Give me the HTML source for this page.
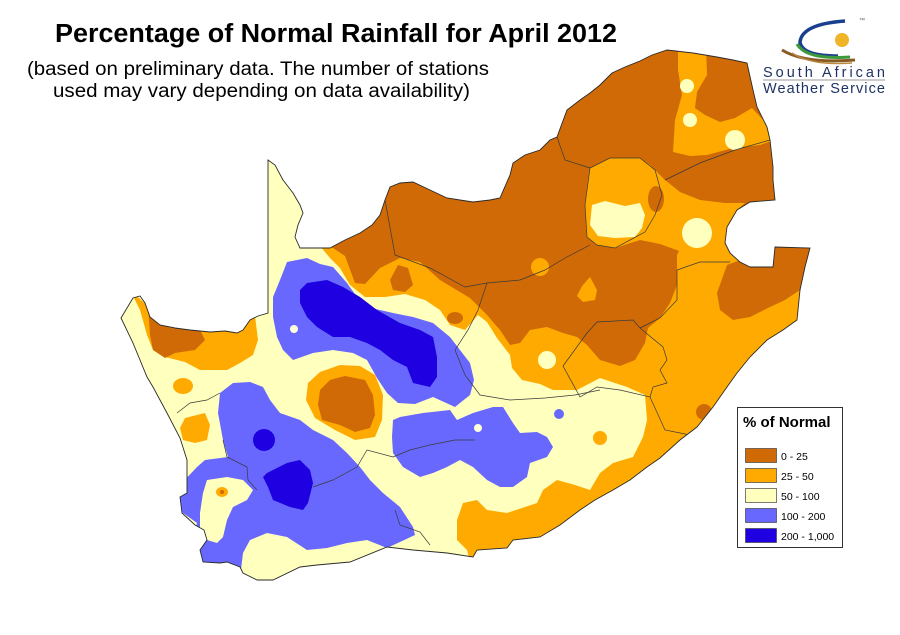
<!DOCTYPE html>
<html>
<head>
<meta charset="utf-8">
<style>
  html,body{margin:0;padding:0;background:#fff;}
  svg{display:block;}
  text{font-family:"Liberation Sans", Arial, sans-serif;}
</style>
</head>
<body>
<svg width="900" height="635" viewBox="0 0 900 635" xmlns="http://www.w3.org/2000/svg">
  <defs>
    <clipPath id="sa">
      <path id="saPath" d="M121,318 L133,298 L140,296 L145,303 L150,317 L160,325 L175,328 L190,330 L210,332 L225,331 L237,333 L243,330 L250,320 L258,316 L268,313 L268,160 L275,165 L283,180 L293,193 L300,205 L303,213 L298,225 L295,237 L300,248 L315,248 L330,248 L345,240 L360,233 L372,225 L380,215 L385,200 L390,187 L400,183 L413,182 L430,190 L447,198 L460,200 L473,202 L490,200 L500,198 L510,175 L513,163 L525,155 L540,150 L550,140 L557,137 L567,110 L580,100 L590,93 L600,85 L612,73 L625,67 L640,61 L652,55 L667,50 L693,53 L717,57 L733,60 L747,63 L753,90 L757,107 L767,127 L770,140 L773,167 L773,180 L775,200 L750,202 L737,210 L727,227 L725,243 L730,253 L740,262 L750,267 L773,267 L775,247 L810,248 L805,267 L800,290 L797,320 L783,330 L767,340 L750,357 L737,373 L727,387 L713,407 L697,427 L680,440 L660,458 L647,467 L630,480 L613,490 L595,500 L580,510 L560,525 L540,537 L513,540 L507,548 L477,550 L473,557 L447,553 L413,550 L387,547 L350,562 L317,565 L300,567 L273,580 L257,580 L243,573 L240,567 L227,562 L220,563 L203,562 L200,550 L207,540 L204,530 L195,525 L182,513 L180,497 L187,493 L187,460 L180,438 L167,413 L153,387 L147,377 L133,343 Z"/>
    </clipPath>
  </defs>

  <rect width="900" height="635" fill="#ffffff"/>

  <!-- Title -->
  <text x="55" y="42" font-size="25.5" font-weight="bold" fill="#000" textLength="562" lengthAdjust="spacingAndGlyphs">Percentage of Normal Rainfall for April 2012</text>
  <text x="27" y="75" font-size="19" fill="#000" textLength="462" lengthAdjust="spacingAndGlyphs">(based on preliminary data. The number of stations</text>
  <text x="53" y="97" font-size="19" fill="#000" textLength="417" lengthAdjust="spacingAndGlyphs">used may vary depending on data availability)</text>

  <!-- Map -->
  <g clip-path="url(#sa)">
    <rect x="0" y="0" width="900" height="635" fill="#FFFFBE"/>

    <!-- orange east/north base -->
    <path fill="#FFAA00" d="M310,0 L310,240 L320,246 L330,258 L340,268 L350,285 L365,297 L385,297 L405,294 L425,300 L440,310 L450,325 L465,330 L478,315 L487,322 L497,338 L510,355 L512,368 L522,380 L540,384 L553,390 L577,390 L600,378 L627,387 L645,395 L647,420 L643,437 L633,457 L613,463 L600,473 L590,490 L575,485 L557,480 L543,490 L537,503 L507,513 L487,510 L477,500 L463,503 L457,520 L457,540 L467,550 L480,600 L900,600 L900,0 Z"/>

    <!-- dark orange north + Free State -->
    <path fill="#D06A06" d="M330,30 L330,100 L318,238 L333,248 L345,256 L355,283 L365,284 L380,268 L400,258 L420,262 L440,280 L470,298 L487,315 L500,330 L510,345 L520,343 L530,330 L547,327 L563,333 L577,337 L587,345 L600,360 L620,366 L635,360 L645,343 L648,328 L660,318 L670,303 L677,285 L677,255 L682,245 L830,245 L830,30 Z"/>

    <!-- orange NE strip -->
    <path fill="#FFAA00" d="M678,45 L706,45 L707,75 L697,92 L695,108 L705,115 L720,122 L735,118 L752,108 L765,122 L780,138 L760,145 L733,148 L707,155 L690,156 L673,152 L675,120 L682,95 L678,70 Z"/>
    <!-- orange Gauteng / Mpumalanga -->
    <path fill="#FFAA00" d="M590,168 L610,158 L640,158 L650,165 L665,180 L680,192 L700,200 L725,203 L745,203 L737,210 L727,227 L725,243 L730,253 L740,262 L727,270 L700,262 L682,252 L660,244 L640,240 L615,248 L597,245 L587,237 L585,205 Z"/>

    <!-- dark orange patches -->
    <ellipse cx="656" cy="199" rx="8" ry="13" fill="#D06A06"/>
    <path fill="#D06A06" d="M727,265 L775,247 L812,247 L800,290 L785,300 L770,307 L750,317 L733,320 L720,310 L717,293 Z"/>
    <circle cx="704" cy="412" r="8" fill="#D06A06"/>
    <path fill="#D06A06" d="M398,265 L408,268 L413,285 L405,292 L393,290 L390,280 Z"/>
    <ellipse cx="455" cy="318" rx="8" ry="6" fill="#D06A06"/>

    <!-- yellow spots in NE -->
    <path fill="#FFFFBE" d="M592,205 L605,201 L625,206 L640,203 L645,215 L642,228 L635,237 L615,238 L598,236 L590,225 Z"/>
    <circle cx="697" cy="233" r="15" fill="#FFFFBE"/>
    <circle cx="687" cy="86" r="7" fill="#FFFFBE"/>
    <circle cx="690" cy="120" r="7" fill="#FFFFBE"/>
    <circle cx="735" cy="140" r="10" fill="#FFFFBE"/>
    <circle cx="547" cy="360" r="9" fill="#FFFFBE"/>

    <!-- orange blobs in Free State -->
    <circle cx="540" cy="267" r="9" fill="#FFAA00"/>
    <path fill="#FFAA00" d="M590,277 L597,290 L595,300 L583,302 L577,296 L582,286 Z"/>

    <!-- NW Namaqualand -->
    <path fill="#FFAA00" d="M130,290 L150,308 L160,323 L240,325 L255,316 L258,340 L253,355 L240,363 L227,370 L200,370 L185,362 L165,357 L153,350 L147,335 L140,310 Z"/>
    <path fill="#D06A06" d="M148,305 L170,328 L200,330 L205,340 L195,350 L175,353 L165,358 L153,350 L150,335 Z"/>
    <ellipse cx="183" cy="386" rx="10" ry="8" fill="#FFAA00"/>
    <path fill="#FFAA00" d="M185,418 L205,413 L210,425 L207,440 L195,443 L183,440 L180,428 Z"/>

    <!-- Central Karoo orange/dark -->
    <path fill="#FFAA00" d="M320,372 L340,365 L360,366 L375,375 L383,395 L382,420 L375,437 L355,440 L335,430 L315,418 L306,400 L308,383 Z"/>
    <path fill="#D06A06" d="M330,380 L345,376 L365,380 L373,395 L375,415 L370,428 L355,432 L340,425 L322,420 L318,405 L320,390 Z"/>

    <!-- Blue Northern Cape -->
    <path fill="#6868FF" d="M287,262 L307,258 L320,264 L333,267 L347,283 L357,297 L367,307 L393,313 L413,317 L433,323 L450,337 L460,350 L470,363 L474,380 L470,395 L455,407 L433,397 L415,404 L398,403 L387,393 L377,378 L367,360 L353,353 L333,350 L313,353 L293,360 L283,350 L277,337 L273,317 L273,297 L280,280 Z"/>
    <path fill="#1E00E0" d="M300,290 L307,283 L327,280 L343,287 L360,297 L377,310 L400,323 L420,330 L433,337 L437,357 L437,377 L430,387 L413,383 L407,367 L393,360 L380,350 L367,343 L350,337 L333,337 L317,327 L307,317 L300,303 Z"/>
    <circle cx="294" cy="329" r="4" fill="#FFFFDD"/>

    <!-- Blue Karoo east -->
    <path fill="#6868FF" d="M393,420 L400,417 L423,413 L450,410 L457,420 L473,413 L493,407 L503,407 L513,423 L520,433 L537,432 L547,437 L553,447 L547,457 L530,463 L527,477 L513,487 L500,487 L487,480 L473,467 L460,460 L447,467 L433,473 L420,477 L403,467 L393,453 L392,437 Z"/>
    <circle cx="478" cy="428" r="4" fill="#FFFFDD"/>

    <!-- Blue SW Cape -->
    <path fill="#6868FF" d="M220,393 L233,383 L250,382 L263,387 L270,400 L280,413 L300,420 L313,430 L333,440 L347,453 L360,467 L370,480 L383,493 L400,507 L413,527 L415,535 L400,542 L387,548 L367,540 L347,543 L327,548 L307,550 L287,537 L267,533 L250,540 L243,553 L240,578 L220,578 L190,572 L190,545 L197,523 L183,513 L170,497 L180,485 L197,467 L205,460 L228,457 L223,440 L218,413 Z"/>
    <path fill="#FFFFBE" d="M207,480 L227,477 L243,480 L253,490 L247,500 L233,507 L227,520 L223,537 L217,543 L207,540 L200,530 L200,513 L203,493 Z"/>
    <ellipse cx="222" cy="492" rx="6" ry="5" fill="#FFAA00"/>
    <circle cx="222" cy="492" r="2" fill="#D06A06"/>
    <path fill="#1E00E0" d="M267,473 L287,463 L300,460 L310,470 L313,483 L308,503 L303,510 L290,507 L273,500 L268,487 L263,477 Z"/>
    <ellipse cx="264" cy="440" rx="11" ry="11" fill="#1E00E0"/>

    <circle cx="559" cy="414" r="5" fill="#6868FF"/>
    <circle cx="600" cy="438" r="7" fill="#FFAA00"/>

    <!-- internal borders -->
    <g fill="none" stroke="#3a3a3a" stroke-width="0.7">
      <path d="M385,200 L395,255 L430,268 L465,287 L487,283"/>
      <path d="M487,283 L478,310 L468,330 L455,350 L465,375 L480,395 L510,400 L545,398 L575,395 L600,390"/>
      <path d="M487,283 L520,280 L545,270 L565,258 L590,245"/>
      <path d="M563,366 L587,333 L597,322 L633,320 L640,328 L663,347 L667,360 L660,370 L667,383 L653,387 L650,397 L620,390 L597,387 L580,397 Z"/>
      <path d="M640,328 L660,318 L677,300 L677,270 L700,262 L730,262"/>
      <path d="M587,237 L585,205 L590,168 L610,158 L640,158 L655,170 L662,195 L655,215 L645,232 L615,248 L597,245 Z"/>
      <path d="M557,137 L565,160 L590,168"/>
      <path d="M665,180 L700,163 L735,150 L770,140"/>
      <path d="M650,397 L665,430 L690,435"/>
      <path d="M177,413 L190,403 L207,400 L220,393"/>
      <path d="M223,440 L227,457 L247,467 L248,480 L257,490"/>
      <path d="M313,487 L333,480 L357,467 L367,450 L393,457 L410,450 L430,445 L455,440 L475,440"/>
      <path d="M395,510 L400,525 L420,532 L430,545"/>
    </g>
  </g>
  <use href="#saPath" fill="none" stroke="#2a2a2a" stroke-width="0.9"/>

  <!-- Logo -->
  <g>
    <path d="M845,21 Q802,24 800,42 Q802,56 838,56" fill="none" stroke="#1b3f8f" stroke-width="3.5"/>
    <path d="M797,44 Q806,60 850,57" fill="none" stroke="#3c9a3c" stroke-width="3"/>
    <path d="M782,50 Q805,64 855,60" fill="none" stroke="#8a5a24" stroke-width="3"/>
    <path d="M792,53 Q812,66 852,63" fill="none" stroke="#b98a3e" stroke-width="1.5"/>
    <circle cx="842" cy="40" r="7" fill="#EFB428"/>
    <text x="859" y="22" font-size="6" fill="#555">™</text>
    <text x="763" y="77" font-size="14.5" fill="#1f3264" textLength="122" lengthAdjust="spacing">South African</text>
    <line x1="763" y1="80" x2="885" y2="80" stroke="#9a9a9a" stroke-width="1"/>
    <text x="763" y="93" font-size="14.5" fill="#1f3264" textLength="122" lengthAdjust="spacing">Weather Service</text>
  </g>

  <!-- Legend -->
  <g>
    <rect x="737.5" y="407.5" width="105" height="140" fill="#fff" stroke="#333" stroke-width="1"/>
    <text x="743" y="427" font-size="15" font-weight="bold" fill="#000">% of Normal</text>
    <g stroke="#444" stroke-width="0.7">
      <rect x="745.5" y="448.5" width="31" height="14" fill="#D06A06"/>
      <rect x="745.5" y="468.5" width="31" height="14" fill="#FFAA00"/>
      <rect x="745.5" y="488.5" width="31" height="14" fill="#FFFFBE"/>
      <rect x="745.5" y="508.5" width="31" height="14" fill="#6868FF"/>
      <rect x="745.5" y="528.5" width="31" height="14" fill="#1E00E0"/>
    </g>
    <g font-size="10.5" fill="#000">
      <text x="781" y="460">0 - 25</text>
      <text x="781" y="480">25 - 50</text>
      <text x="781" y="500">50 - 100</text>
      <text x="781" y="520">100 - 200</text>
      <text x="781" y="540">200 - 1,000</text>
    </g>
  </g>
</svg>
</body>
</html>
